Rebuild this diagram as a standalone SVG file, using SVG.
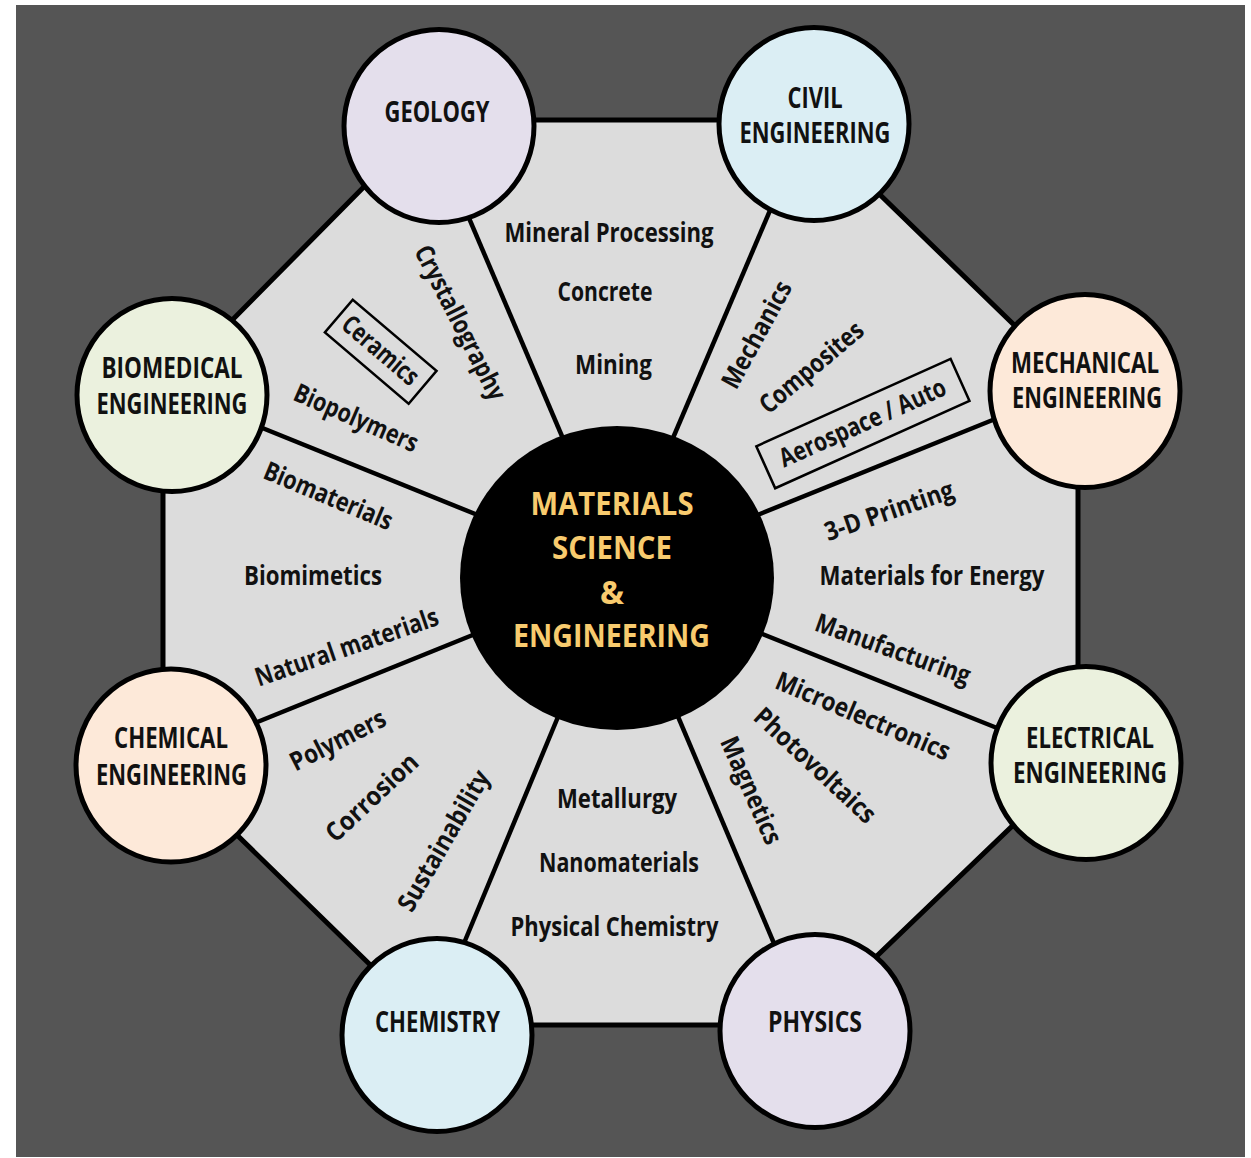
<svg xmlns="http://www.w3.org/2000/svg" width="1251" height="1158" viewBox="0 0 1251 1158">
<defs>
<style>
.node{stroke:#000;stroke-width:5}
.nt{font-family:"Open Sans","DejaVu Sans",sans-serif;font-weight:700;font-size:28px;fill:#111;text-anchor:middle}
.ct{font-family:"Open Sans","DejaVu Sans",sans-serif;font-weight:700;font-size:32px;fill:#f8cb6e;text-anchor:middle}
.lb{font-family:"Open Sans","DejaVu Sans",sans-serif;font-weight:700;font-size:26px;fill:#111;text-anchor:middle}
.spoke{stroke:#000;stroke-width:4.5;fill:none}
.box{fill:none;stroke:#000;stroke-width:2.5}
.lav{fill:#e4dfec}.blu{fill:#dbeef4}.pch{fill:#fde9d9}.grn{fill:#ebf1de}
</style>
</defs>
<rect x="0" y="0" width="1251" height="1158" fill="#fff"/>
<rect x="16" y="5" width="1229" height="1152" fill="#555555"/>
<polygon points="430,120 803,120 1078,387 1078,763 805,1025 432,1025 163,763 163,390" fill="#dcdcdc" stroke="#000" stroke-width="5"/>
<g id="connectors">
<line class="spoke" x1="460" y1="197" x2="570" y2="455"/>
<line class="spoke" x1="777" y1="194" x2="670" y2="445"/>
<line class="spoke" x1="1010" y1="413" x2="745" y2="520"/>
<line class="spoke" x1="1012" y1="734" x2="745" y2="627"/>
<line class="spoke" x1="781" y1="960" x2="671" y2="700"/>
<line class="spoke" x1="457" y1="960" x2="565" y2="700"/>
<line class="spoke" x1="240" y1="729" x2="490" y2="628"/>
<line class="spoke" x1="245" y1="421" x2="490" y2="520"/>
</g>
<g id="labels">
<text class="lb" x="609" y="242" textLength="209" lengthAdjust="spacingAndGlyphs">Mineral Processing</text>
<text class="lb" x="605" y="301" textLength="95" lengthAdjust="spacingAndGlyphs">Concrete</text>
<text class="lb" x="613.5" y="374" textLength="77" lengthAdjust="spacingAndGlyphs">Mining</text>
<text class="lb" x="617" y="808" textLength="120" lengthAdjust="spacingAndGlyphs">Metallurgy</text>
<text class="lb" x="619" y="872" textLength="160" lengthAdjust="spacingAndGlyphs">Nanomaterials</text>
<text class="lb" x="614.5" y="936" textLength="208" lengthAdjust="spacingAndGlyphs">Physical Chemistry</text>
<text class="lb" x="932" y="585" textLength="225" lengthAdjust="spacingAndGlyphs">Materials for Energy</text>
<text class="lb" x="313" y="585" textLength="138" lengthAdjust="spacingAndGlyphs">Biomimetics</text>
<g transform="translate(459.5,323) rotate(63)"><text class="lb" x="0" y="8" textLength="170" lengthAdjust="spacingAndGlyphs">Crystallography</text></g>
<g transform="translate(380.7,351.7) rotate(40.4)"><rect class="box" x="-55" y="-21.5" width="110" height="43"/><text class="lb" x="-1" y="8" textLength="92" lengthAdjust="spacingAndGlyphs">Ceramics</text></g>
<g transform="translate(355.8,418.7) rotate(23.6)"><text class="lb" x="0" y="8" textLength="133" lengthAdjust="spacingAndGlyphs">Biopolymers</text></g>
<g transform="translate(328,496.7) rotate(22.7)"><text class="lb" x="0" y="8" textLength="137" lengthAdjust="spacingAndGlyphs">Biomaterials</text></g>
<g transform="translate(347,648) rotate(-19)"><text class="lb" x="0" y="8" textLength="192" lengthAdjust="spacingAndGlyphs">Natural materials</text></g>
<g transform="translate(757.5,335) rotate(-61.4)"><text class="lb" x="0" y="8" textLength="118" lengthAdjust="spacingAndGlyphs">Mechanics</text></g>
<g transform="translate(812,368) rotate(-40)"><text class="lb" x="0" y="8" textLength="127" lengthAdjust="spacingAndGlyphs">Composites</text></g>
<g transform="translate(862.9,423.6) rotate(-24.2)"><rect class="box" x="-106.5" y="-23" width="213" height="46"/><text class="lb" x="0" y="8" textLength="180" lengthAdjust="spacingAndGlyphs">Aerospace / Auto</text></g>
<g transform="translate(889.4,511.7) rotate(-19)"><text class="lb" x="0" y="8" textLength="135" lengthAdjust="spacingAndGlyphs">3-D Printing</text></g>
<g transform="translate(892.7,650) rotate(19.7)"><text class="lb" x="0" y="8" textLength="163" lengthAdjust="spacingAndGlyphs">Manufacturing</text></g>
<g transform="translate(862.7,717) rotate(23)"><text class="lb" x="0" y="8" textLength="187" lengthAdjust="spacingAndGlyphs">Microelectronics</text></g>
<g transform="translate(814.5,766) rotate(43)"><text class="lb" x="0" y="8" textLength="156" lengthAdjust="spacingAndGlyphs">Photovoltaics</text></g>
<g transform="translate(750.5,790.8) rotate(66)"><text class="lb" x="0" y="8" textLength="115" lengthAdjust="spacingAndGlyphs">Magnetics</text></g>
<g transform="translate(338.3,741) rotate(-27)"><text class="lb" x="0" y="8" textLength="104" lengthAdjust="spacingAndGlyphs">Polymers</text></g>
<g transform="translate(372.5,798) rotate(-43)"><text class="lb" x="0" y="8" textLength="116" lengthAdjust="spacingAndGlyphs">Corrosion</text></g>
<g transform="translate(444.5,841) rotate(-60)"><text class="lb" x="0" y="8" textLength="158" lengthAdjust="spacingAndGlyphs">Sustainability</text></g>
</g>
<g id="center">
<ellipse cx="617" cy="578" rx="157" ry="152" fill="#000"/>
<text class="ct" x="612" y="515" textLength="163" lengthAdjust="spacingAndGlyphs">MATERIALS</text>
<text class="ct" x="612" y="559" textLength="120" lengthAdjust="spacingAndGlyphs">SCIENCE</text>
<text class="ct" x="612" y="604">&amp;</text>
<text class="ct" x="611.5" y="647" textLength="197" lengthAdjust="spacingAndGlyphs">ENGINEERING</text>
</g>
<g id="geology"><ellipse class="node lav" cx="439" cy="126" rx="95" ry="96.5"/><text class="nt" x="437" y="122" textLength="105" lengthAdjust="spacingAndGlyphs">GEOLOGY</text></g>
<g id="civil"><ellipse class="node blu" cx="814" cy="124" rx="95" ry="96.5"/><text class="nt" x="815" y="108" textLength="55" lengthAdjust="spacingAndGlyphs">CIVIL</text><text class="nt" x="815" y="143" textLength="151" lengthAdjust="spacingAndGlyphs">ENGINEERING</text></g>
<g id="mechanical"><ellipse class="node pch" cx="1085" cy="391" rx="95" ry="96.5"/><text class="nt" x="1085" y="373" textLength="148" lengthAdjust="spacingAndGlyphs">MECHANICAL</text><text class="nt" x="1087" y="408" textLength="150" lengthAdjust="spacingAndGlyphs">ENGINEERING</text></g>
<g id="electrical"><ellipse class="node grn" cx="1086" cy="763" rx="95" ry="96.5"/><text class="nt" x="1090" y="748" textLength="128" lengthAdjust="spacingAndGlyphs">ELECTRICAL</text><text class="nt" x="1090" y="783" textLength="154" lengthAdjust="spacingAndGlyphs">ENGINEERING</text></g>
<g id="physics"><ellipse class="node lav" cx="815" cy="1031" rx="95" ry="96.5"/><text class="nt" x="815" y="1032" textLength="94" lengthAdjust="spacingAndGlyphs">PHYSICS</text></g>
<g id="chemistry"><ellipse class="node blu" cx="437" cy="1035" rx="95" ry="96.5"/><text class="nt" x="437.5" y="1032" textLength="125" lengthAdjust="spacingAndGlyphs">CHEMISTRY</text></g>
<g id="chemical"><ellipse class="node pch" cx="171" cy="765.5" rx="95" ry="96.5"/><text class="nt" x="171" y="748" textLength="114" lengthAdjust="spacingAndGlyphs">CHEMICAL</text><text class="nt" x="171.5" y="785" textLength="151" lengthAdjust="spacingAndGlyphs">ENGINEERING</text></g>
<g id="biomedical"><ellipse class="node grn" cx="172" cy="395" rx="95" ry="96.5"/><text class="nt" x="172" y="378" textLength="141" lengthAdjust="spacingAndGlyphs">BIOMEDICAL</text><text class="nt" x="172" y="414" textLength="151" lengthAdjust="spacingAndGlyphs">ENGINEERING</text></g>
</svg>
